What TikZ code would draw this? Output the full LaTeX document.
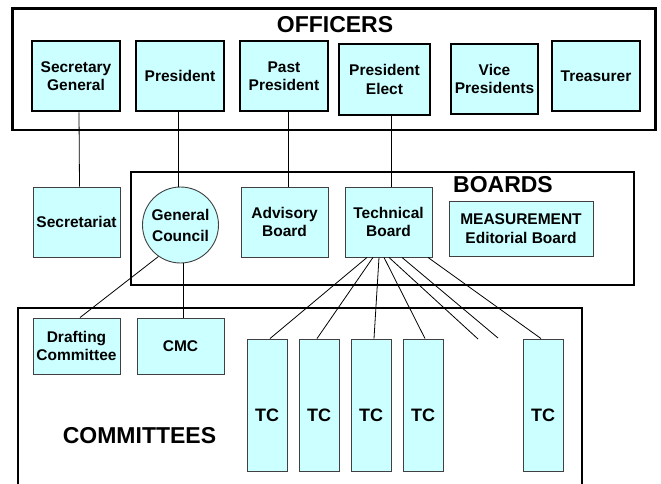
\documentclass[tikz,border=0pt]{standalone}
\usepackage{fontspec}
\setmainfont{Liberation Sans}
\definecolor{cyanlight}{HTML}{CCFFFF}
\definecolor{unitedge}{HTML}{404040}
\begin{document}
\begin{tikzpicture}[x=1pt,y=-1pt,
  officer/.style={draw=black, line width=2.6pt, fill=cyanlight,
    minimum width=88pt, minimum height=70pt, inner sep=0pt, align=center,
    font=\fontsize{15.5}{18.5}\selectfont\bfseries},
  unit/.style={draw=unitedge, line width=0.9pt, fill=cyanlight,
    minimum width=87pt, minimum height=70pt, inner sep=0pt, align=center,
    font=\fontsize{15.5}{18.5}\selectfont\bfseries},
  tcbox/.style={unit, minimum width=40pt, minimum height=132pt},
  tctext/.style={font=\fontsize{18}{20}\selectfont\bfseries},
  group/.style={draw=black, line width=2.7pt},
  grouptitle/.style={font=\fontsize{23}{26}\selectfont\bfseries, inner sep=0pt},
  link/.style={draw=black, line width=0.8pt}
]
\useasboundingbox (0,0) rectangle (661,484);
\fill[white] (0,0) rectangle (661,484);

% ---------- Officers ----------
\draw[group] (12.5,8.5) rectangle (655.5,130);
\node[grouptitle] (offtitle) at (335,25) {OFFICERS};
\node[officer] (sg)   at (76,76)    {Secretary\\General};
\node[officer] (pres) at (180,76)   {President};
\node[officer] (past) at (284,76)   {Past\\President};
\node[officer, minimum width=91pt, minimum height=71pt] (elect) at (384.5,79.5) {President\\Elect};
\node[officer, minimum width=87pt] (vice) at (494.5,79) {Vice\\Presidents};
\node[officer] (treas) at (596,76)  {Treasurer};

% ---------- Boards ----------
\draw[group] (131,172) rectangle (634,285);
\node[grouptitle] (boardtitle) at (503,185) {BOARDS};
\node[unit] (secr) at (76.5,222) {Secretariat};
\node[unit, circle, minimum size=76pt, font=\fontsize{15.5}{21}\selectfont\bfseries] (gc) at (180.5,225) {General\\Council};
\node[unit] (adv)  at (284.5,222) {Advisory\\Board};
\node[unit] (tech) at (388.5,222) {Technical\\Board};
\node[unit, minimum width=144pt, minimum height=55pt] (meas) at (521,228.5) {MEASUREMENT\\Editorial Board};

% ---------- Committees ----------
\draw[group] (18,495) |- (582,308) -- (582,495);
\node[grouptitle] (comtitle) at (139.5,436) {COMMITTEES};
\node[unit, minimum height=56pt, font=\fontsize{15.5}{17.5}\selectfont\bfseries] (draft) at (76.5,346) {Drafting\\Committee};
\node[unit, minimum height=56pt] (cmc) at (180.5,346) {CMC};
\node[tcbox, label={[tctext, yshift=-10pt]center:TC}] (tc1) at (267,405) {};
\node[tcbox, label={[tctext, yshift=-10pt]center:TC}] (tc2) at (319,405) {};
\node[tcbox, label={[tctext, yshift=-10pt]center:TC}] (tc3) at (371,405) {};
\node[tcbox, label={[tctext, yshift=-10pt]center:TC}] (tc4) at (423,405) {};
\node[tcbox, label={[tctext, yshift=-10pt]center:TC}] (tc5) at (543,405) {};
\coordinate (more1) at (478,339);
\coordinate (more2) at (498,338);

% ---------- Connectors ----------
\draw[link] ([xshift=3pt]sg.south) -- ([xshift=3pt]secr.north);
\draw[link] ([xshift=-2pt]pres.south) -- ([xshift=-2pt]pres.south |- gc.north);
\draw[link] ([xshift=4pt]past.south) -- ([xshift=4pt]past.south |- adv.north);
\draw[link] ([xshift=6.5pt]elect.south) -- ([xshift=2.5pt]tech.north);
\draw[link] (gc.235) -- ([xshift=3.5pt]draft.north);
\draw[link] (gc.-86) -- (gc.-86 |- cmc.north);
\draw[link] ([xshift=-21.5pt]tech.south) -- ([xshift=3pt]tc1.north);
\draw[link] ([xshift=-15.5pt]tech.south) -- ([xshift=-2pt]tc2.north);
\draw[link] ([xshift=-9.5pt]tech.south) -- ([xshift=3pt]tc3.north);
\draw[link] ([xshift=-4.5pt]tech.south) -- ([xshift=2pt]tc4.north);
\draw[link] ([xshift=0.5pt]tech.south) -- (more1);
\draw[link] ([xshift=13.5pt]tech.south) -- (more2);
\draw[link] ([xshift=39.5pt]tech.south) -- ([xshift=-2pt]tc5.north);
\end{tikzpicture}
\end{document}
